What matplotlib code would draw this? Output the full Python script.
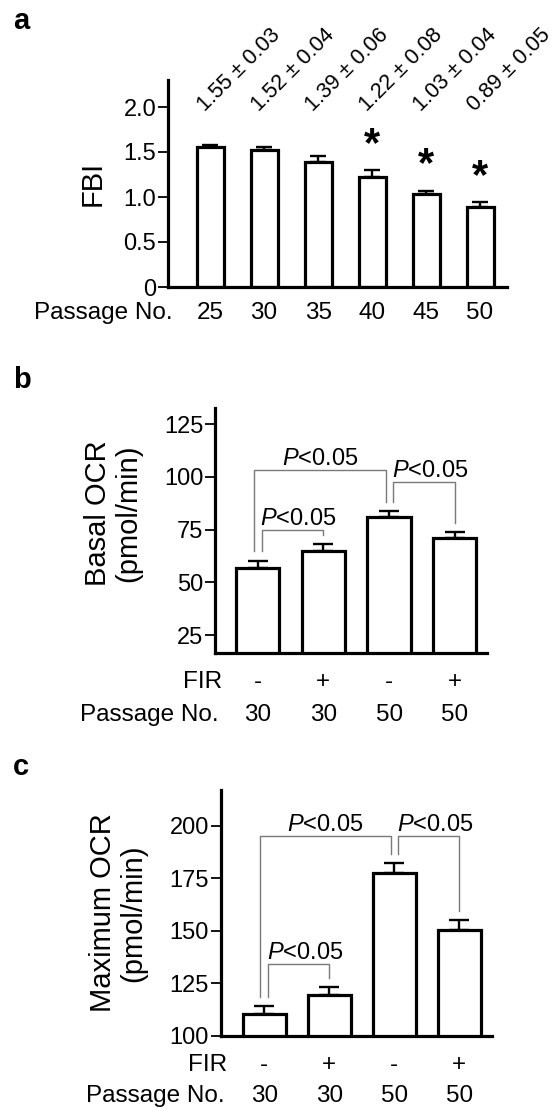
import numpy as np
import matplotlib.pyplot as plt

plt.rcParams['font.family'] = ['Liberation Sans', 'DejaVu Sans']
plt.rcParams['mathtext.fontset'] = 'custom'
plt.rcParams['mathtext.it'] = 'Liberation Sans:italic'
plt.rcParams['mathtext.rm'] = 'Liberation Sans'

# panel a
passage_a = ['25', '30', '35', '40', '45', '50']
fbi_mean = [1.55, 1.52, 1.39, 1.22, 1.03, 0.89]
fbi_sem = [0.03, 0.04, 0.06, 0.08, 0.04, 0.05]
fbi_star = [False, False, False, True, True, True]

# panels b and c
fir = ['-', '+', '-', '+']
passage_bc = ['30', '30', '50', '50']
basal_mean = [57, 65, 81, 71]
basal_sem = [3.3, 3.3, 2.8, 2.8]
max_mean = [110.5, 119.5, 177.5, 150.5]
max_sem = [3.8, 3.8, 4.7, 4.7]

# significance brackets: (bar i, bar j, height)
basal_pairs = [(0, 2, 103.3), (0, 1, 75), (2, 3, 97.6)]
max_pairs = [(0, 2, 195.3), (0, 1, 134.2), (2, 3, 195.3)]

W, H = 556, 1109
fig = plt.figure(figsize=(W / 100, H / 100), dpi=100)

LW = 2.3
GREY = '#7a7a7a'
TICK_FS = 17
ROW_FS = 17.5
YLAB_FS = 21
P_FS = 17


def style_axes(ax):
    for s in ['top', 'right']:
        ax.spines[s].set_visible(False)
    for s in ['left', 'bottom']:
        ax.spines[s].set_linewidth(LW)
    ax.tick_params(axis='y', length=7, width=1.3, pad=1.5,
                   labelsize=TICK_FS)
    ax.tick_params(axis='x', length=0, labelbottom=False)


def bars(ax, mean, sem, width, capsize):
    x = np.arange(len(mean))
    ax.bar(x, mean, width=width, color='white', edgecolor='black',
           linewidth=LW, zorder=2)
    ax.errorbar(x, mean, yerr=[np.zeros(len(mean)), sem], fmt='none',
                ecolor='black', elinewidth=1.7, capsize=capsize,
                capthick=1.7, zorder=1)
    return x


def brackets(ax, pairs, mean, sem, gap):
    for i, j, h in pairs:
        if j - i > 1:
            x1, x2 = i - 0.06, j - 0.05
        else:
            x1, x2 = i + 0.06, j
        y1 = mean[i] + sem[i] + gap
        y2 = mean[j] + sem[j] + gap
        ax.plot([x1, x1, x2, x2], [y1, h, h, y2], color=GREY, lw=1.0,
                zorder=3)
        if j - i > 1:
            ax.annotate('$P$<0.05', ((x1 + x2) / 2, h), xytext=(0, 3.5),
                        textcoords='offset points', ha='center',
                        va='baseline', fontsize=P_FS)
        else:
            ax.annotate('$P$<0.05', (x1, h), xytext=(-1, 3.5),
                        textcoords='offset points', ha='left',
                        va='baseline', fontsize=P_FS)


# ---- a ----
ax = fig.add_axes([168 / W, 1 - 287 / H, 339 / W, 207 / H])
style_axes(ax)
x = bars(ax, fbi_mean, fbi_sem, 0.5, 5.6)
ax.set_xlim(-0.78, 5.5)
ax.set_ylim(0, 2.3)
ax.set_yticks([0, 0.5, 1.0, 1.5, 2.0])
ax.set_yticklabels(['0', '0.5', '1.0', '1.5', '2.0'])
for i in x:
    ax.text(i - 0.09, 1.95, f'{fbi_mean[i]:.2f} ± {fbi_sem[i]:.2f}',
            rotation=45, rotation_mode='anchor', ha='left', va='baseline',
            fontsize=15.5)
    if fbi_star[i]:
        ax.text(i, fbi_mean[i] + fbi_sem[i] + 0.16, '*', ha='center',
                va='baseline', fontsize=30, fontweight='bold')
tr = ax.get_xaxis_transform()
ax.text(0.015, -0.126, 'Passage No.', transform=ax.transAxes, ha='right',
        va='center', fontsize=ROW_FS)
for i in x:
    ax.text(i, -0.126, passage_a[i], transform=tr, ha='center',
            va='center', fontsize=ROW_FS)
fig.text(93 / W, 1 - 183 / H, 'FBI', rotation=90, ha='center', va='center',
         fontsize=YLAB_FS)
fig.text(21 / W, 1 - 21 / H, 'a', ha='center', va='center', fontsize=21,
         fontweight='bold')

# ---- b ----
ax = fig.add_axes([215 / W, 1 - 653 / H, 272 / W, 245 / H])
style_axes(ax)
x = bars(ax, basal_mean, basal_sem, 0.66, 7.2)
ax.set_xlim(-0.65, 3.49)
ax.set_ylim(16.5, 132.6)
ax.set_yticks([25, 50, 75, 100, 125])
brackets(ax, basal_pairs, basal_mean, basal_sem, 4.3)
tr = ax.get_xaxis_transform()
ax.text(0.025, -0.118, 'FIR', transform=ax.transAxes, ha='right',
        va='center', fontsize=ROW_FS)
ax.text(0.015, -0.253, 'Passage No.', transform=ax.transAxes, ha='right',
        va='center', fontsize=ROW_FS)
for i in x:
    ax.text(i, -0.118, fir[i], transform=tr, ha='center', va='center',
            fontsize=ROW_FS)
    ax.text(i, -0.253, passage_bc[i], transform=tr, ha='center',
            va='center', fontsize=ROW_FS)
fig.text(113 / W, 1 - 513 / H, 'Basal OCR\n(pmol/min)', rotation=90,
         ha='center', va='center', multialignment='center',
         fontsize=YLAB_FS, linespacing=1.1)
fig.text(22 / W, 1 - 380 / H, 'b', ha='center', va='center', fontsize=21,
         fontweight='bold')

# ---- c ----
ax = fig.add_axes([220.6 / W, 1 - 1036 / H, 271 / W, 246 / H])
style_axes(ax)
x = bars(ax, max_mean, max_sem, 0.66, 7.2)
ax.set_xlim(-0.67, 3.5)
ax.set_ylim(100, 217)
ax.set_yticks([100, 125, 150, 175, 200])
brackets(ax, max_pairs, max_mean, max_sem, 4.3)
tr = ax.get_xaxis_transform()
ax.text(0.024, -0.118, 'FIR', transform=ax.transAxes, ha='right',
        va='center', fontsize=ROW_FS)
ax.text(0.016, -0.244, 'Passage No.', transform=ax.transAxes, ha='right',
        va='center', fontsize=ROW_FS)
for i in x:
    ax.text(i, -0.118, fir[i], transform=tr, ha='center', va='center',
            fontsize=ROW_FS)
    ax.text(i, -0.244, passage_bc[i], transform=tr, ha='center',
            va='center', fontsize=ROW_FS)
fig.text(118 / W, 1 - 913 / H, 'Maximum OCR\n(pmol/min)', rotation=90,
         ha='center', va='center', multialignment='center',
         fontsize=YLAB_FS, linespacing=1.1)
fig.text(21 / W, 1 - 767 / H, 'c', ha='center', va='center', fontsize=21,
         fontweight='bold')

fig.savefig('out.png', dpi=100)
